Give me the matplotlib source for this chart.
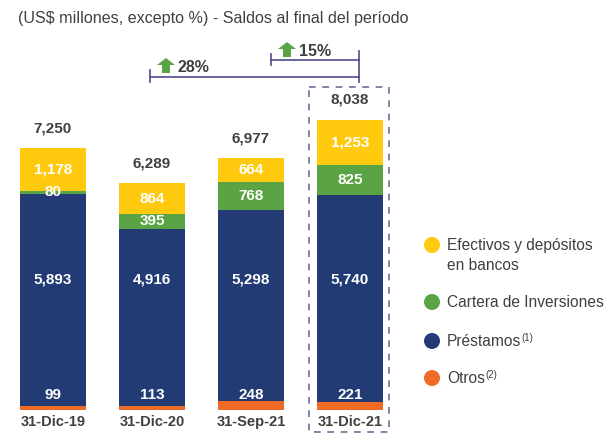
import matplotlib.pyplot as plt
from matplotlib.patches import Rectangle, Circle, Polygon

# data
categories = ["31-Dic-19", "31-Dic-20", "31-Sep-21", "31-Dic-21"]
otros = [99, 113, 248, 221]
prestamos = [5893, 4916, 5298, 5740]
cartera = [80, 395, 768, 825]
efectivos = [1178, 864, 664, 1253]
totals = [7250, 6289, 6977, 8038]
legend_labels = ["Efectivos y depósitos\nen bancos", "Cartera de Inversiones", "Préstamos", "Otros"]
legend_sups = ["", "", "(1)", "(2)"]
growth = ["28%", "15%"]

C_YEL = "#FFC90E"
C_GRN = "#5BA445"
C_BLU = "#223B74"
C_ORA = "#EE6A25"
C_TXT = "#404040"
C_LINE = "#4E4B8E"

plt.rcParams['font.family'] = ['Liberation Sans', 'DejaVu Sans']

W, H = 611, 434
fig = plt.figure(figsize=(W / 100, H / 100), dpi=100)
ax = fig.add_axes([0, 0, 1, 1])

# pixel mapping: bar i center at 53 + 99*i, baseline at y=410, 8038 -> 290 px
x0, dx = 53, 99
base, scale = 410, 290 / 8038
ax.set_xlim(-x0 / dx, (W - x0) / dx)
ax.set_ylim(-(H - base) / scale, base / scale)
ax.axis("off")

xs = range(len(categories))
bw = 66 / dx
b1 = otros
b2 = [a + b for a, b in zip(b1, prestamos)]
b3 = [a + b for a, b in zip(b2, cartera)]
ax.bar(xs, otros, bw, color=C_ORA)
ax.bar(xs, prestamos, bw, bottom=b1, color=C_BLU)
ax.bar(xs, cartera, bw, bottom=b2, color=C_GRN)
ax.bar(xs, efectivos, bw, bottom=b3, color=C_YEL)

lab = dict(color="white", fontweight="bold", fontsize=11, ha="center", va="center")
for i in xs:
    ax.text(i, 15 / scale, f"{otros[i]:,}", **lab)
    ax.text(i, 130 / scale, f"{prestamos[i]:,}", **lab)
    ax.text(i, b2[i] + cartera[i] / 2, f"{cartera[i]:,}", **lab)
    ax.text(i, b3[i] + efectivos[i] / 2, f"{efectivos[i]:,}", **lab)
    ax.text(i, totals[i] + 20 / scale, f"{totals[i]:,}", color=C_TXT,
            fontweight="bold", fontsize=11, ha="center", va="center")
    ax.text(i, -12 / scale, categories[i], color=C_TXT, fontweight="bold",
            fontsize=10.5, ha="center", va="center")

# overlay in pixel coords for decorations
ov = fig.add_axes([0, 0, 1, 1])
ov.set_xlim(0, W)
ov.set_ylim(H, 0)
ov.axis("off")
ov.patch.set_alpha(0)

ov.text(18, 18, "(US$ millones, excepto %) - Saldos al final del período",
        color=C_TXT, fontsize=11.6, ha="left", va="center")

# dashed box around last bar
ov.add_patch(Rectangle((309, 87), 80, 345, fill=False, ec="#6E6C96",
                       lw=1.2, ls=(0, (4, 4))))

# growth brackets
ov.plot([150, 359], [77, 77], color=C_LINE, lw=1.2)
ov.plot([150, 150], [70, 82], color=C_LINE, lw=1.2)
ov.plot([271, 359], [60, 60], color=C_LINE, lw=1.2)
ov.plot([271, 271], [54, 65], color=C_LINE, lw=1.2)
ov.plot([359, 359], [51, 82], color=C_LINE, lw=1.2)


def up_arrow(cx, top):
    pts = [(cx, top), (cx + 9, top + 7), (cx + 4, top + 7), (cx + 4, top + 15),
           (cx - 4, top + 15), (cx - 4, top + 7), (cx - 9, top + 7)]
    ov.add_patch(Polygon(pts, closed=True, color=C_GRN, lw=0))


up_arrow(166, 58)
ov.text(178, 68, growth[0], color=C_TXT, fontweight="bold", fontsize=11.5, ha="left", va="center")
up_arrow(287, 42)
ov.text(299, 51, growth[1], color=C_TXT, fontweight="bold", fontsize=11.5, ha="left", va="center")

# legend
leg_colors = [C_YEL, C_GRN, C_BLU, C_ORA]
leg_y = [245, 302, 341, 378]
fig.canvas.draw()
for c, y, t, s in zip(leg_colors, leg_y, legend_labels, legend_sups):
    ov.add_patch(Circle((432, y), 8, color=c, lw=0))
    txt = ov.text(447, y - 7, t, color=C_TXT, fontsize=11.2, ha="left", va="top",
                  linespacing=1.4)
    if s:
        bb = txt.get_window_extent(renderer=fig.canvas.get_renderer())
        ov.text(bb.x1 / fig.dpi * 100, y - 8, s, color=C_TXT, fontsize=7,
                ha="left", va="top")

fig.savefig("out.png", dpi=100)
